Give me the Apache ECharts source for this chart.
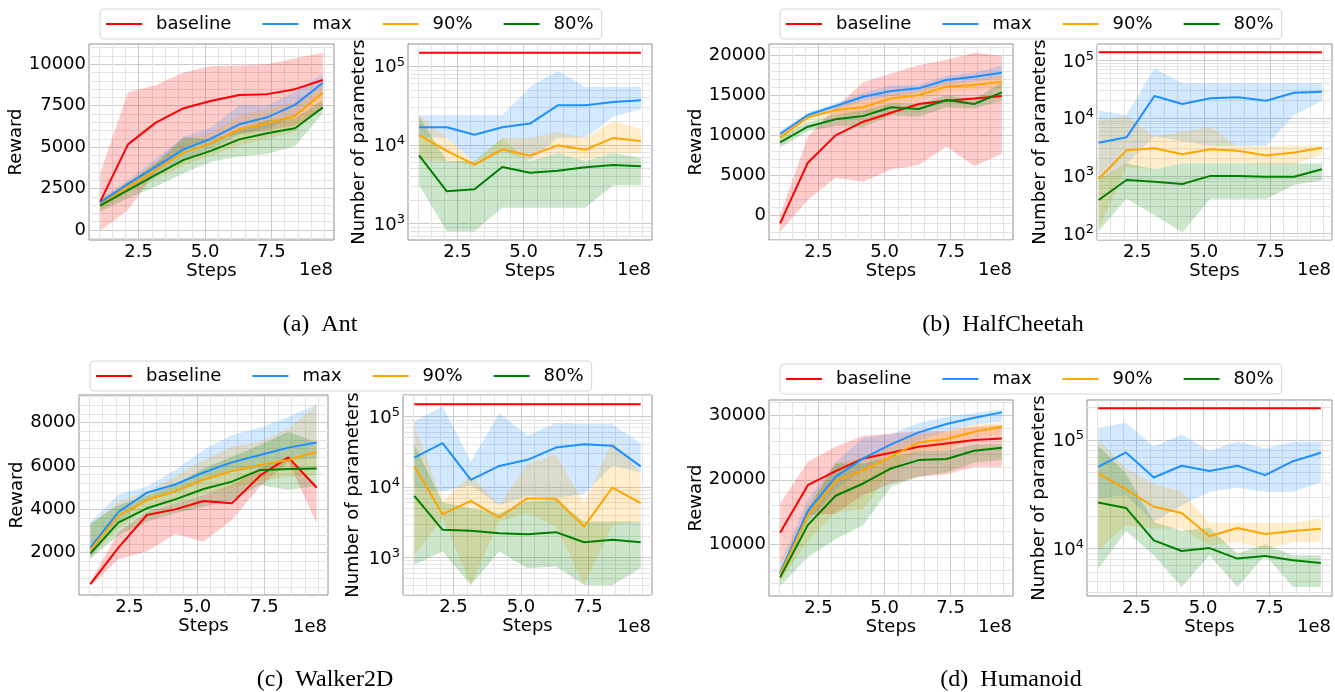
<!DOCTYPE html>
<html><head><meta charset="utf-8">
<script src="https://cdn.jsdelivr.net/npm/echarts@6/dist/echarts.min.js"></script>
<style>html,body{margin:0;padding:0;background:#fff}#c{width:1335px;height:692px}</style>
</head><body><div id="c"></div>
<script>
// ---------- shared axes data ----------
const steps = [1.0486, 2.0972, 3.1457, 4.1943, 5.2429, 6.2915, 7.3400, 8.3886, 9.4372];
const xMajorTicks = [2.5, 5.0, 7.5];
const xMinorTicks = [1.0, 1.5, 2.0, 3.0, 3.5, 4.0, 4.5, 5.5, 6.0, 6.5, 7.0, 8.0, 8.5, 9.0, 9.5];
const seriesNames = ['baseline', 'max', '90%', '80%'];

const logMajorTicks = [100, 1000, 10000, 100000];
const logMinorTicks = [20, 30, 40, 50, 60, 70, 80, 90, 200, 300, 400, 500, 600, 700, 800, 900,
  2000, 3000, 4000, 5000, 6000, 7000, 8000, 9000, 20000, 30000, 40000, 50000, 60000, 70000, 80000, 90000, 200000];

const antRewardTicks = [0, 2500, 5000, 7500, 10000];
const antRewardMinor = [-500, 500, 1000, 1500, 2000, 3000, 3500, 4000, 4500, 5500, 6000, 6500, 7000, 8000, 8500, 9000, 9500, 10500, 11000];
const hcRewardTicks = [0, 5000, 10000, 15000, 20000];
const hcRewardMinor = [-3000, -2000, -1000, 1000, 2000, 3000, 4000, 6000, 7000, 8000, 9000, 11000, 12000, 13000, 14000, 16000, 17000, 18000, 19000, 21000];
const wkRewardTicks = [2000, 4000, 6000, 8000];
const wkRewardMinor = [400, 800, 1200, 1600, 2400, 2800, 3200, 3600, 4400, 4800, 5200, 5600, 6400, 6800, 7200, 7600, 8400, 8800, 9200];
const huRewardTicks = [10000, 20000, 30000];
const huRewardMinor = [4000, 6000, 8000, 12000, 14000, 16000, 18000, 22000, 24000, 26000, 28000, 32000];

// ---------- Ant ----------
const ant_r_base    = [1700, 5170, 6480, 7350, 7800, 8150, 8200, 8500, 9050];
const ant_r_base_lo = [-40, 1200, 3500, 4800, 5400, 5800, 6000, 6300, 7300];
const ant_r_base_hi = [3420, 8310, 8750, 9500, 9900, 9920, 10000, 10360, 10700];
const ant_r_max     = [1650, 2780, 3820, 4870, 5530, 6380, 6800, 7550, 8890];
const ant_r_max_lo  = [1350, 2500, 3400, 4300, 4900, 5800, 6100, 6900, 8400];
const ant_r_max_hi  = [1900, 3000, 4300, 5600, 6200, 7550, 7500, 8350, 9420];
const ant_r_90      = [1510, 2620, 3620, 4670, 5230, 6080, 6440, 6880, 8290];
const ant_r_90_lo   = [1200, 2300, 3100, 3900, 4500, 5100, 5500, 5900, 7600];
const ant_r_90_hi   = [1800, 2950, 4100, 5400, 5900, 6900, 7300, 7700, 8900];
const ant_r_80      = [1470, 2410, 3320, 4230, 4790, 5470, 5840, 6140, 7400];
const ant_r_80_lo   = [1100, 1910, 2620, 3420, 4120, 4430, 4590, 5070, 7040];
const ant_r_80_hi   = [1800, 2820, 4020, 5630, 5430, 6040, 6640, 6740, 7850];

const ant_p_base    = [149000, 149000, 149000, 149000, 149000, 149000, 149000, 149000, 149000];
const ant_p_max     = [16800, 16800, 13500, 16800, 18700, 31900, 31900, 35200, 37000];
const ant_p_max_lo  = [12600, 12400, 6000, 12400, 6400, 12400, 12400, 22800, 28400];
const ant_p_max_hi  = [23800, 23800, 23800, 23800, 54600, 87300, 54600, 54600, 54600];
const ant_p_90      = [13300, 8400, 5630, 8790, 7310, 9900, 8700, 12300, 11200];
const ant_p_90_lo   = [6400, 6270, 5400, 8200, 6380, 7900, 6300, 7900, 7900];
const ant_p_90_hi   = [23800, 12400, 6000, 12400, 12400, 14600, 12400, 20200, 15800];
const ant_p_80      = [7390, 2580, 2730, 5250, 4450, 4700, 5200, 5580, 5370];
const ant_p_80_lo   = [3070, 800, 800, 1590, 1590, 1590, 1590, 3070, 3070];
const ant_p_80_hi   = [23000, 6270, 6270, 12400, 6270, 7900, 6270, 7900, 6830];

// ---------- HalfCheetah ----------
const hc_r_base     = [-955, 6600, 10000, 11700, 12820, 13900, 14310, 14600, 14890];
const hc_r_base_lo  = [-1990, 1950, 4730, 4230, 5770, 6310, 8590, 6180, 7680];
const hc_r_base_hi  = [80, 9830, 13500, 16600, 17700, 18750, 19400, 20290, 19880];
const hc_r_max      = [10170, 12530, 13650, 14810, 15520, 15850, 16890, 17300, 17800];
const hc_r_max_lo   = [9700, 12200, 13200, 14300, 14900, 15300, 16300, 16700, 17100];
const hc_r_max_hi   = [10600, 12800, 14000, 15300, 16200, 16300, 17400, 17800, 18700];
const hc_r_90       = [9750, 12240, 13150, 13490, 14600, 15020, 16060, 16270, 16680];
const hc_r_90_lo    = [9200, 11700, 12500, 12700, 13800, 14300, 15400, 15600, 15800];
const hc_r_90_hi    = [10300, 12600, 13600, 14300, 15200, 15600, 16600, 16800, 17500];
const hc_r_80       = [9130, 11080, 12000, 12410, 13490, 13280, 14390, 13900, 15350];
const hc_r_80_lo    = [8500, 10500, 11200, 11000, 12500, 12300, 13500, 13300, 14300];
const hc_r_80_hi    = [9800, 11600, 12600, 13100, 14000, 13900, 15000, 14500, 16600];

const hc_p_base     = [137500, 137500, 137500, 137500, 137500, 137500, 137500, 137500, 137500];
const hc_p_max      = [3760, 4650, 24200, 17500, 22000, 22900, 20000, 27500, 28700];
const hc_p_max_lo   = [830, 1600, 4800, 4000, 3300, 3300, 3300, 11300, 20000];
const hc_p_max_hi   = [13500, 11300, 72800, 40000, 40000, 40000, 40000, 40000, 40000];
const hc_p_90       = [883, 2770, 3000, 2360, 2880, 2730, 2260, 2550, 3080];
const hc_p_90_lo    = [120, 1400, 1300, 1650, 1650, 1650, 1600, 1600, 2300];
const hc_p_90_hi    = [9000, 11000, 4800, 5800, 7000, 3300, 3300, 3400, 3300];
const hc_p_80       = [382, 847, 794, 723, 1000, 1000, 969, 969, 1300];
const hc_p_80_lo    = [110, 400, 210, 105, 400, 400, 400, 700, 830];
const hc_p_80_hi    = [850, 1650, 1300, 1650, 1650, 1650, 1650, 1650, 1650];

// ---------- Walker2D ----------
const wk_r_base     = [554, 2246, 3740, 4000, 4385, 4277, 5554, 6400, 5000];
const wk_r_base_lo  = [460, 1710, 2050, 2860, 2510, 3510, 5050, 6200, 3350];
const wk_r_base_hi  = [660, 2970, 3890, 4277, 4660, 5120, 5890, 6430, 5120];
const wk_r_max      = [2230, 3890, 4770, 5150, 5700, 6170, 6510, 6850, 7090];
const wk_r_max_lo   = [1740, 3430, 4430, 4740, 5280, 5740, 5890, 6280, 6350];
const wk_r_max_hi   = [3400, 4690, 5050, 5820, 6740, 7430, 7770, 8280, 8850];
const wk_r_90       = [2120, 3710, 4430, 4850, 5380, 5770, 6050, 6280, 6660];
const wk_r_90_lo    = [1800, 3100, 4000, 4300, 4700, 5000, 5300, 5500, 5600];
const wk_r_90_hi    = [3280, 4350, 4820, 5510, 6280, 6890, 7120, 7740, 8820];
const wk_r_80       = [1970, 3400, 4050, 4460, 4940, 5280, 5820, 5860, 5890];
const wk_r_80_lo    = [1710, 2820, 3430, 3820, 4120, 4430, 5120, 4890, 5080];
const wk_r_80_hi    = [3350, 4200, 4630, 5120, 5890, 6430, 6970, 7580, 7090];

const wk_p_base     = [148800, 148800, 148800, 148800, 148800, 148800, 148800, 148800, 148800];
const wk_p_max      = [26200, 41900, 12600, 19900, 24300, 36300, 40500, 38400, 19600];
const wk_p_max_lo   = [10000, 8800, 10500, 5500, 7500, 7000, 8000, 20000, 16200];
const wk_p_max_hi   = [85000, 140000, 23000, 111000, 53700, 80400, 77900, 77900, 41900];
const wk_p_90       = [19900, 4120, 6370, 3690, 6950, 6800, 2750, 9840, 5900];
const wk_p_90_lo    = [1090, 3610, 409, 3240, 4260, 2750, 409, 2900, 3240];
const wk_p_90_hi    = [76000, 6230, 14900, 5580, 21100, 29200, 5900, 44200, 16200];
const wk_p_80       = [7500, 2470, 2390, 2210, 2140, 2290, 1650, 1780, 1650];
const wk_p_80_lo    = [787, 1220, 409, 1220, 706, 745, 409, 405, 706];
const wk_p_80_hi    = [40500, 6030, 5010, 4260, 6230, 6580, 3240, 3240, 3240];

// ---------- Humanoid ----------
const hu_r_base     = [11800, 19170, 21340, 23300, 24170, 25100, 25620, 26130, 26390];
const hu_r_base_lo  = [6800, 14530, 14790, 17630, 19430, 20460, 20820, 22000, 22000];
const hu_r_base_hi  = [16340, 22780, 25100, 26800, 27160, 27530, 27530, 28200, 28450];
const hu_r_max      = [5620, 15150, 20460, 23300, 25460, 27320, 28610, 29590, 30410];
const hu_r_max_lo   = [4900, 13500, 18500, 21500, 24000, 26000, 27500, 28500, 29000];
const hu_r_max_hi   = [7000, 17000, 22700, 26500, 27000, 28800, 29700, 30300, 30900];
const hu_r_90       = [5360, 14430, 19790, 21490, 23560, 25770, 26290, 27420, 28200];
const hu_r_90_lo    = [4300, 10500, 15000, 15500, 21500, 24500, 24500, 26500, 27000];
const hu_r_90_hi    = [6500, 16000, 22500, 23500, 25500, 27000, 27500, 28500, 28800];
const hu_r_80       = [4900, 13000, 17530, 19430, 21750, 23040, 23200, 24480, 24950];
const hu_r_80_lo    = [3550, 8090, 10820, 13000, 18920, 20460, 21130, 22680, 23040];
const hu_r_80_hi    = [6000, 15500, 22500, 22500, 23500, 24500, 24500, 25500, 25500];

const hu_p_base     = [196000, 196000, 196000, 196000, 196000, 196000, 196000, 196000, 196000];
const hu_p_max      = [56700, 77000, 45200, 58000, 51800, 58000, 47500, 63900, 76500];
const hu_p_max_lo   = [29000, 31000, 17600, 25100, 33400, 36300, 33400, 33400, 40600];
const hu_p_max_hi   = [130000, 144500, 86800, 112800, 79700, 96500, 83800, 96500, 96500];
const hu_p_90       = [49300, 35100, 24300, 21300, 13000, 15500, 13600, 14500, 15200];
const hu_p_90_lo    = [9660, 16400, 15300, 15300, 10700, 11500, 9870, 11500, 11500];
const hu_p_90_hi    = [101000, 54700, 39300, 33800, 17300, 17300, 17300, 17300, 18900];
const hu_p_80       = [26600, 23700, 11900, 9500, 10100, 8090, 8550, 7800, 7380];
const hu_p_80_lo    = [6530, 14500, 8670, 4430, 8670, 4430, 8670, 4430, 4430];
const hu_p_80_hi    = [88000, 49300, 17600, 14600, 15500, 9000, 10900, 8670, 8670];

// ---------- layout / style ----------
const FONT = 'DejaVu Sans';
const COLORS = ['#ff0000', '#1e90ff', '#ffa500', '#008000'];
const BAND_COLORS = ['rgba(255,0,0,0.2)', 'rgba(30,144,255,0.2)', 'rgba(255,165,0,0.2)', 'rgba(0,128,0,0.2)'];
const MAJOR = '#cbcbcb', MINOR = '#e3e3e3', FRAME = '#8f8f8f';

const panels = [
  {box: [89, 44, 245, 196], x: [0.629, 9.857], yType: 'value', y: [-603, 11225], yMajor: antRewardTicks, yMinor: antRewardMinor, yName: 'Reward', yGap: 60, xGap: 20,
   lines: [[ant_r_base, ant_r_base_lo, ant_r_base_hi], [ant_r_max, ant_r_max_lo, ant_r_max_hi], [ant_r_90, ant_r_90_lo, ant_r_90_hi], [ant_r_80, ant_r_80_lo, ant_r_80_hi]]},
  {box: [408, 44, 244, 196], x: [0.629, 9.857], yType: 'log', y: [620, 192000], yMajor: logMajorTicks, yMinor: logMinorTicks, yName: 'Number of parameters', yGap: 40, xGap: 20,
   lines: [[ant_p_base], [ant_p_max, ant_p_max_lo, ant_p_max_hi], [ant_p_90, ant_p_90_lo, ant_p_90_hi], [ant_p_80, ant_p_80_lo, ant_p_80_hi]]},
  {box: [769, 44, 244, 196], x: [0.629, 9.857], yType: 'value', y: [-3024, 21369], yMajor: hcRewardTicks, yMinor: hcRewardMinor, yName: 'Reward', yGap: 60, xGap: 20,
   lines: [[hc_r_base, hc_r_base_lo, hc_r_base_hi], [hc_r_max, hc_r_max_lo, hc_r_max_hi], [hc_r_90, hc_r_90_lo, hc_r_90_hi], [hc_r_80, hc_r_80_lo, hc_r_80_hi]]},
  {box: [1097, 44, 235, 196], x: [0.988, 9.813], yType: 'log', y: [77.6, 192000], yMajor: logMajorTicks, yMinor: logMinorTicks, yName: 'Number of parameters', yGap: 48, xGap: 20,
   lines: [[hc_p_base], [hc_p_max, hc_p_max_lo, hc_p_max_hi], [hc_p_90, hc_p_90_lo, hc_p_90_hi], [hc_p_80, hc_p_80_lo, hc_p_80_hi]]},
  {box: [79, 395, 249, 200], x: [0.629, 9.857], yType: 'value', y: [48, 9278], yMajor: wkRewardTicks, yMinor: wkRewardMinor, yName: 'Reward', yGap: 50, xGap: 22,
   lines: [[wk_r_base, wk_r_base_lo, wk_r_base_hi], [wk_r_max, wk_r_max_lo, wk_r_max_hi], [wk_r_90, wk_r_90_lo, wk_r_90_hi], [wk_r_80, wk_r_80_lo, wk_r_80_hi]]},
  {box: [403, 395, 249, 200], x: [0.629, 9.857], yType: 'log', y: [294, 202000], yMajor: logMajorTicks, yMinor: logMinorTicks, yName: 'Number of parameters', yGap: 41, xGap: 22,
   lines: [[wk_p_base], [wk_p_max, wk_p_max_lo, wk_p_max_hi], [wk_p_90, wk_p_90_lo, wk_p_90_hi], [wk_p_80, wk_p_80_lo, wk_p_80_hi]]},
  {box: [769, 400, 244, 196], x: [0.629, 9.857], yType: 'value', y: [2050, 32320], yMajor: huRewardTicks, yMinor: huRewardMinor, yName: 'Reward', yGap: 60, xGap: 21,
   lines: [[hu_r_base, hu_r_base_lo, hu_r_base_hi], [hu_r_max, hu_r_max_lo, hu_r_max_hi], [hu_r_90, hu_r_90_lo, hu_r_90_hi], [hu_r_80, hu_r_80_lo, hu_r_80_hi]]},
  {box: [1087, 400, 245, 196], x: [0.629, 9.857], yType: 'log', y: [3656, 234000], yMajor: logMajorTicks, yMinor: logMinorTicks, yName: 'Number of parameters', yGap: 39, xGap: 21,
   lines: [[hu_p_base], [hu_p_max, hu_p_max_lo, hu_p_max_hi], [hu_p_90, hu_p_90_lo, hu_p_90_hi], [hu_p_80, hu_p_80_lo, hu_p_80_hi]]}
];

const legends = [[100, 9], [780, 9], [90, 361], [780, 364]];
const captions = [['(a)  Ant', 320, 325], ['(b)  HalfCheetah', 1003, 325], ['(c)  Walker2D', 325, 680], ['(d)  Humanoid', 1011, 680]];

const txt = {color: '#000', fontSize: 18, fontFamily: FONT};
const logRich = {
  b: {fontSize: 18, fontFamily: FONT, color: '#000', verticalAlign: 'bottom'},
  s: {fontSize: 13, fontFamily: FONT, color: '#000', verticalAlign: 'bottom', padding: [0, 0, 8, 0]}
};
function pts(ys) { return steps.map((x, i) => [x, ys[i]]); }
function logLabel(v) { const e = Math.round(Math.log10(v)); return '{b|10}{s|' + e + '}'; }

function bandSeries(xi, yi, lo, hi, color) {
  return {
    type: 'custom', xAxisIndex: xi, yAxisIndex: yi, silent: true, clip: true, z: 1,
    data: steps.map((x, i) => [x, lo[i], hi[i]]),
    encode: {x: 0, y: [1, 2]},
    renderItem: function (params, api) {
      if (params.dataIndex !== 0) return null;
      const upper = steps.map((x, i) => api.coord([x, hi[i]]));
      const lower = steps.map((x, i) => api.coord([x, lo[i]])).reverse();
      return {type: 'polygon', shape: {points: upper.concat(lower)}, style: {fill: color, stroke: null}};
    }
  };
}

const option = {animation: false, backgroundColor: '#fff', grid: [], xAxis: [], yAxis: [], series: [], legend: [], graphic: []};

panels.forEach((p, gi) => {
  option.grid.push({left: p.box[0], top: p.box[1], width: p.box[2], height: p.box[3], show: true,
    borderColor: FRAME, borderWidth: 1, backgroundColor: 'rgba(0,0,0,0)'});
  const xi = option.xAxis.length, yi = option.yAxis.length;
  option.xAxis.push({type: 'value', gridIndex: gi, min: p.x[0], max: p.x[1], position: 'bottom',
    axisLine: {show: false}, axisTick: {show: false, customValues: xMajorTicks},
    axisLabel: Object.assign({customValues: xMajorTicks, margin: 3, formatter: v => Number(v).toFixed(1)}, txt),
    splitLine: {show: true, lineStyle: {color: MAJOR, width: 1}},
    name: 'Steps', nameLocation: 'middle', nameGap: p.xGap, nameTextStyle: txt});
  option.xAxis.push({type: 'value', gridIndex: gi, min: p.x[0], max: p.x[1], position: 'top',
    axisLine: {show: false}, axisLabel: {show: false}, axisTick: {show: false, customValues: xMinorTicks},
    splitLine: {show: true, lineStyle: {color: MINOR, width: 1}}});
  const yLabel = p.yType === 'log'
    ? Object.assign({customValues: p.yMajor, margin: 3, formatter: logLabel, rich: logRich}, txt)
    : Object.assign({customValues: p.yMajor, margin: 3, formatter: v => String(Math.round(v))}, txt);
  option.yAxis.push({type: p.yType, logBase: 10, gridIndex: gi, min: p.y[0], max: p.y[1], position: 'left',
    axisLine: {show: false}, axisTick: {show: false, customValues: p.yMajor},
    axisLabel: yLabel,
    splitLine: {show: true, lineStyle: {color: MAJOR, width: 1}},
    name: p.yName, nameLocation: 'middle', nameGap: p.yGap, nameTextStyle: txt});
  option.yAxis.push({type: p.yType, logBase: 10, gridIndex: gi, min: p.y[0], max: p.y[1], position: 'right',
    axisLine: {show: false}, axisLabel: {show: false}, axisTick: {show: false, customValues: p.yMinor},
    splitLine: {show: true, lineStyle: {color: MINOR, width: 1}}});

  p.lines.forEach((l, k) => {
    if (l.length < 3) return;
    option.series.push(bandSeries(xi, yi, l[1], l[2], BAND_COLORS[k]));
  });
  p.lines.forEach((l, k) => {
    option.series.push({type: 'line', name: seriesNames[k], xAxisIndex: xi, yAxisIndex: yi, data: pts(l[0]),
      symbol: 'none', lineStyle: {color: COLORS[k], width: 2}, itemStyle: {color: COLORS[k]}, z: 3});
  });
  option.graphic.push({type: 'text', x: p.box[0] + p.box[2] - 1, y: p.box[1] + p.box[3] + p.xGap + 10,
    style: {text: '1e8', font: '18px "DejaVu Sans"', fill: '#000', align: 'right', verticalAlign: 'middle',
      textAlign: 'right', textVerticalAlign: 'middle'}});
});

legends.forEach(([l, t]) => {
  option.legend.push({left: l, top: t, orient: 'horizontal', data: seriesNames, icon: 'rect',
    itemWidth: 36, itemHeight: 2, itemGap: 31, padding: [5, 8, 5, 6], selectedMode: false,
    borderColor: '#d6d6d6', borderWidth: 1, borderRadius: 4, backgroundColor: 'rgba(255,255,255,0.85)',
    textStyle: {color: '#000', fontSize: 18, fontFamily: FONT, lineHeight: 20, padding: [0, 0, 0, 9]}});
});

captions.forEach(([t, x, y]) => {
  option.graphic.push({type: 'text', x: x, y: y,
    style: {text: t, font: '24px "Liberation Serif"', fill: '#000', align: 'center', verticalAlign: 'middle',
      textAlign: 'center', textVerticalAlign: 'middle'}});
});

const chart = echarts.init(document.getElementById('c'), null, {renderer: 'canvas'});
chart.setOption(option);
</script>
</body></html>
